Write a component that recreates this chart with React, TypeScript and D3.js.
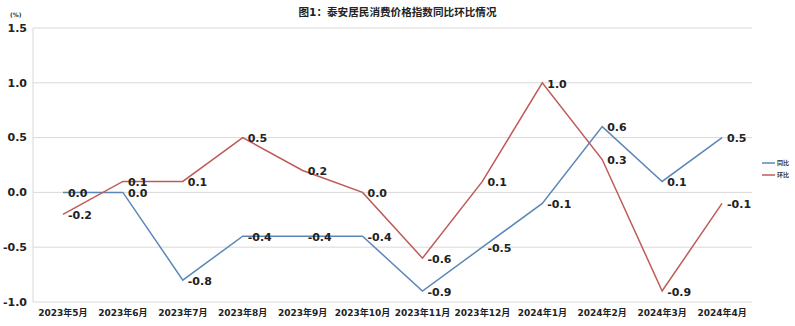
import React from "react";
import * as d3 from "d3";

const categories = ["2023年5月","2023年6月","2023年7月","2023年8月","2023年9月","2023年10月","2023年11月","2023年12月","2024年1月","2024年2月","2024年3月","2024年4月"];
const yoy = [0.0, 0.0, -0.8, -0.4, -0.4, -0.4, -0.9, -0.5, -0.1, 0.6, 0.1, 0.5];
const mom = [-0.2, 0.1, 0.1, 0.5, 0.2, 0.0, -0.6, 0.1, 1.0, 0.3, -0.9, -0.1];
const yTicks = [1.5, 1.0, 0.5, 0.0, -0.5, -1.0];
const seriesNames = ["同比", "环比"];
const colors = ["#5b87b8", "#bf5a58"];

const W = 795, H = 326;
const M = { left: 33, right: 43, top: 28, bottom: 24 };
const FONT = "'DejaVu Sans', 'Noto Sans CJK SC', sans-serif";
const fmt = (v: number) => (Math.abs(v) < 1e-9 ? 0 : v).toFixed(1);

export default function App() {
  const x = d3.scaleBand<string>().domain(categories).range([M.left, W - M.right]);
  const y = d3.scaleLinear().domain([-1.0, 1.5]).range([H - M.bottom, M.top]);
  const cx = (c: string) => (x(c) as number) + x.bandwidth() / 2;
  const line = d3.line<number>().x((_, i) => cx(categories[i])).y((d) => y(d));
  const series = [yoy, mom];
  return (
    <svg width={W} height={H} style={{ position: "absolute", left: 0, top: 0, background: "#fff" }} fontFamily={FONT}>
      <text x={W / 2} y={16} textAnchor="middle" fontSize={10.6} fontWeight="bold" fill="#222">图1：泰安居民消费价格指数同比环比情况</text>
      <text x={10} y={17} fontSize={6} fontWeight="bold" fill="#333">(%)</text>
      {yTicks.map((t) => (
        <g key={t}>
          <line x1={M.left} x2={W - M.right} y1={y(t)} y2={y(t)} stroke="#d9d9d9" strokeWidth={1} />
          <text x={M.left - 6} y={y(t)} dy="0.35em" textAnchor="end" fontSize={11} fontWeight="bold" fill="#222">{fmt(t)}</text>
        </g>
      ))}
      <line x1={M.left} x2={M.left} y1={M.top} y2={H - M.bottom} stroke="#d9d9d9" strokeWidth={1} />
      {categories.map((c) => (
        <text key={c} x={cx(c)} y={H - M.bottom + 14} textAnchor="middle" fontSize={9} fontWeight="bold" fill="#222">{c}</text>
      ))}
      {series.map((s, si) => (
        <path key={si} d={line(s) || ""} fill="none" stroke={colors[si]} strokeWidth={1.5} />
      ))}
      {series.map((s, si) =>
        s.map((v, i) => (
          <text key={si + "-" + i} x={cx(categories[i]) + 5} y={y(v) + 1} dy="0.35em" fontSize={11} fontWeight="bold" fill="#222">{fmt(v)}</text>
        ))
      )}
      {seriesNames.map((n, i) => (
        <g key={n} transform={`translate(762, ${163 + i * 12})`}>
          <line x1={0} x2={13} y1={0} y2={0} stroke={colors[i]} strokeWidth={1.5} />
          <text x={15} y={0} dy="0.35em" fontSize={6} fontWeight="bold" fill="#333">{n}</text>
        </g>
      ))}
    </svg>
  );
}
